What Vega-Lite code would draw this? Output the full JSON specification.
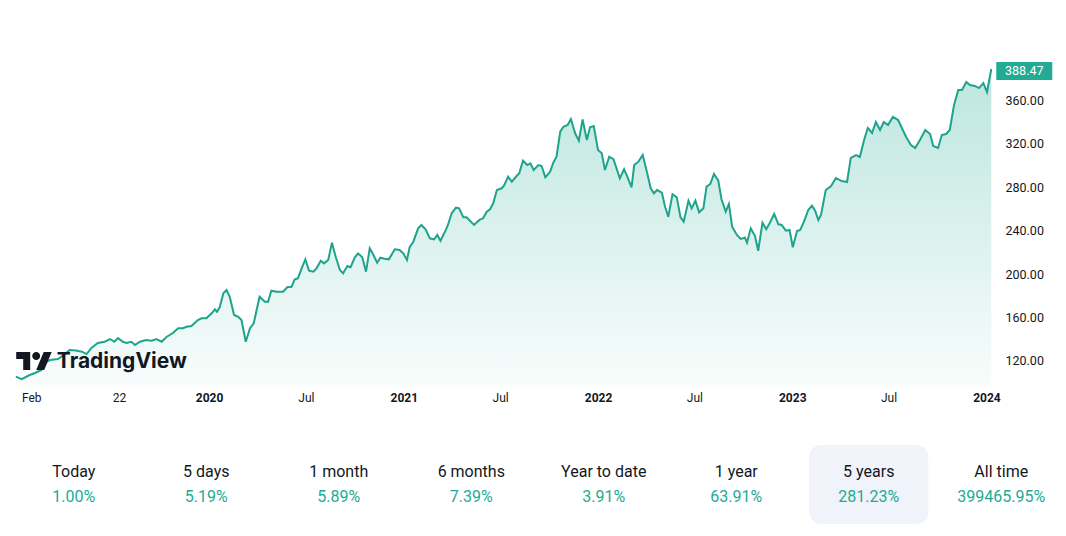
{
 "$schema": "https://vega.github.io/schema/vega-lite/v6.json",
 "background": "white",
 "padding": {"left": 10, "top": 50, "right": 0, "bottom": 0},
 "config": {"view": {"stroke": null}, "font": "Roboto", "concat": {"spacing": 42}},
 "datasets": {
  "prices": [
   {"date":"2019-01-03","price":105.6},{"date":"2019-01-14","price":103.4},{"date":"2019-01-29","price":107.1},{"date":"2019-02-08","price":109.0},
   {"date":"2019-02-20","price":111.7},{"date":"2019-02-26","price":118.2},{"date":"2019-03-08","price":120.9},{"date":"2019-03-23","price":121.8},
   {"date":"2019-04-03","price":125.5},{"date":"2019-04-14","price":130.1},{"date":"2019-04-26","price":129.7},{"date":"2019-05-07","price":128.6},
   {"date":"2019-05-16","price":126.4},{"date":"2019-05-25","price":132.0},{"date":"2019-06-06","price":136.6},{"date":"2019-06-19","price":137.7},
   {"date":"2019-06-29","price":140.2},{"date":"2019-07-07","price":137.7},{"date":"2019-07-14","price":141.1},{"date":"2019-07-23","price":137.7},
   {"date":"2019-07-30","price":136.6},{"date":"2019-08-08","price":137.7},{"date":"2019-08-15","price":134.7},{"date":"2019-08-24","price":137.7},
   {"date":"2019-09-05","price":139.3},{"date":"2019-09-15","price":138.7},{"date":"2019-09-24","price":140.2},{"date":"2019-10-04","price":137.7},
   {"date":"2019-10-13","price":142.1},{"date":"2019-10-25","price":145.7},{"date":"2019-11-04","price":150.1},{"date":"2019-11-13","price":150.1},
   {"date":"2019-11-20","price":151.5},{"date":"2019-11-29","price":152.2},{"date":"2019-12-11","price":157.7},{"date":"2019-12-18","price":159.3},
   {"date":"2019-12-27","price":159.3},{"date":"2020-01-06","price":163.9},{"date":"2020-01-12","price":167.5},{"date":"2020-01-16","price":165.3},
   {"date":"2020-01-21","price":169.4},{"date":"2020-01-28","price":182.3},{"date":"2020-02-03","price":185.3},{"date":"2020-02-09","price":179.1},
   {"date":"2020-02-17","price":162.3},{"date":"2020-02-25","price":160.7},{"date":"2020-03-02","price":157.7},{"date":"2020-03-10","price":137.7},
   {"date":"2020-03-18","price":150.1},{"date":"2020-03-25","price":154.7},{"date":"2020-04-05","price":179.1},{"date":"2020-04-15","price":174.5},
   {"date":"2020-04-21","price":174.5},{"date":"2020-04-27","price":184.6},{"date":"2020-05-07","price":183.7},{"date":"2020-05-19","price":183.7},
   {"date":"2020-05-27","price":187.8},{"date":"2020-06-04","price":188.3},{"date":"2020-06-10","price":195.1},{"date":"2020-06-16","price":196.0},
   {"date":"2020-06-23","price":205.2},{"date":"2020-06-30","price":213.5},{"date":"2020-07-07","price":203.0},{"date":"2020-07-15","price":202.1},
   {"date":"2020-07-21","price":205.2},{"date":"2020-07-29","price":212.2},{"date":"2020-08-04","price":209.8},{"date":"2020-08-12","price":212.9},
   {"date":"2020-08-19","price":228.8},{"date":"2020-08-26","price":215.9},{"date":"2020-09-03","price":203.7},{"date":"2020-09-09","price":200.6},
   {"date":"2020-09-17","price":207.4},{"date":"2020-09-23","price":206.2},{"date":"2020-10-01","price":215.4},{"date":"2020-10-07","price":219.0},
   {"date":"2020-10-15","price":215.4},{"date":"2020-10-22","price":202.1},{"date":"2020-10-29","price":223.6},{"date":"2020-11-04","price":218.4},
   {"date":"2020-11-12","price":210.4},{"date":"2020-11-18","price":215.0},{"date":"2020-11-26","price":214.1},{"date":"2020-12-04","price":213.5},
   {"date":"2020-12-15","price":222.7},{"date":"2020-12-24","price":222.1},{"date":"2020-12-31","price":219.0},{"date":"2021-01-07","price":212.9},
   {"date":"2021-01-12","price":224.6},{"date":"2021-01-19","price":229.7},{"date":"2021-01-28","price":242.0},{"date":"2021-02-03","price":245.1},
   {"date":"2021-02-11","price":241.1},{"date":"2021-02-19","price":232.8},{"date":"2021-02-27","price":231.9},{"date":"2021-03-05","price":235.9},
   {"date":"2021-03-11","price":230.6},{"date":"2021-03-21","price":240.5},{"date":"2021-03-25","price":245.1},{"date":"2021-04-01","price":255.8},
   {"date":"2021-04-09","price":261.0},{"date":"2021-04-15","price":260.4},{"date":"2021-04-23","price":252.1},{"date":"2021-04-29","price":252.1},
   {"date":"2021-05-13","price":245.1},{"date":"2021-05-23","price":249.7},{"date":"2021-05-30","price":251.2},{"date":"2021-06-06","price":257.3},
   {"date":"2021-06-12","price":259.5},{"date":"2021-06-18","price":265.0},{"date":"2021-06-25","price":277.2},{"date":"2021-07-04","price":278.8},
   {"date":"2021-07-08","price":280.9},{"date":"2021-07-16","price":289.5},{"date":"2021-07-23","price":284.9},{"date":"2021-08-01","price":290.1},
   {"date":"2021-08-06","price":292.6},{"date":"2021-08-13","price":304.2},{"date":"2021-08-21","price":300.2},{"date":"2021-08-27","price":301.8},
   {"date":"2021-09-02","price":295.6},{"date":"2021-09-11","price":300.2},{"date":"2021-09-17","price":299.3},{"date":"2021-09-24","price":288.9},
   {"date":"2021-10-03","price":294.1},{"date":"2021-10-09","price":302.3},{"date":"2021-10-15","price":307.9},{"date":"2021-10-22","price":330.9},
   {"date":"2021-10-28","price":335.4},{"date":"2021-11-05","price":337.0},{"date":"2021-11-11","price":342.5},{"date":"2021-11-19","price":329.4},
   {"date":"2021-11-26","price":322.6},{"date":"2021-12-03","price":342.2},{"date":"2021-12-11","price":323.2},{"date":"2021-12-17","price":334.9},
   {"date":"2021-12-24","price":336.1},{"date":"2022-01-01","price":314.0},{"date":"2022-01-08","price":311.0},{"date":"2022-01-14","price":295.6},
   {"date":"2022-01-22","price":307.9},{"date":"2022-01-30","price":305.5},{"date":"2022-02-11","price":288.0},{"date":"2022-02-19","price":296.3},
   {"date":"2022-02-25","price":289.5},{"date":"2022-03-05","price":279.7},{"date":"2022-03-10","price":300.2},{"date":"2022-03-18","price":303.3},
   {"date":"2022-03-26","price":309.4},{"date":"2022-04-02","price":295.6},{"date":"2022-04-10","price":278.8},{"date":"2022-04-16","price":274.2},
   {"date":"2022-04-22","price":277.2},{"date":"2022-05-01","price":274.8},{"date":"2022-05-07","price":261.9},{"date":"2022-05-13","price":252.7},
   {"date":"2022-05-21","price":273.3},{"date":"2022-05-29","price":270.5},{"date":"2022-06-05","price":252.1},{"date":"2022-06-11","price":248.1},
   {"date":"2022-06-20","price":267.4},{"date":"2022-06-26","price":260.4},{"date":"2022-07-03","price":267.4},{"date":"2022-07-10","price":256.7},
   {"date":"2022-07-18","price":260.4},{"date":"2022-07-24","price":280.3},{"date":"2022-07-31","price":282.8},{"date":"2022-08-07","price":292.0},
   {"date":"2022-08-15","price":285.8},{"date":"2022-08-21","price":268.7},{"date":"2022-08-29","price":257.3},{"date":"2022-09-04","price":264.4},
   {"date":"2022-09-10","price":243.5},{"date":"2022-09-19","price":235.9},{"date":"2022-09-26","price":232.2},{"date":"2022-10-04","price":233.4},
   {"date":"2022-10-08","price":228.8},{"date":"2022-10-15","price":242.0},{"date":"2022-10-23","price":234.9},{"date":"2022-10-29","price":221.4},
   {"date":"2022-11-06","price":247.2},{"date":"2022-11-13","price":241.1},{"date":"2022-11-20","price":247.2},{"date":"2022-11-28","price":255.2},
   {"date":"2022-12-06","price":245.7},{"date":"2022-12-12","price":245.1},{"date":"2022-12-20","price":239.8},{"date":"2022-12-27","price":240.5},
   {"date":"2023-01-02","price":224.6},{"date":"2023-01-10","price":239.5},{"date":"2023-01-16","price":240.5},{"date":"2023-01-23","price":248.1},
   {"date":"2023-01-31","price":258.8},{"date":"2023-02-07","price":262.8},{"date":"2023-02-13","price":258.2},{"date":"2023-02-19","price":249.7},
   {"date":"2023-02-24","price":254.3},{"date":"2023-03-05","price":277.2},{"date":"2023-03-15","price":280.9},{"date":"2023-03-24","price":288.3},
   {"date":"2023-04-04","price":285.5},{"date":"2023-04-14","price":284.6},{"date":"2023-04-21","price":306.7},{"date":"2023-05-01","price":309.4},
   {"date":"2023-05-08","price":307.6},{"date":"2023-05-16","price":323.2},{"date":"2023-05-23","price":334.3},{"date":"2023-05-31","price":329.7},
   {"date":"2023-06-07","price":339.8},{"date":"2023-06-15","price":332.4},{"date":"2023-06-22","price":339.8},{"date":"2023-06-30","price":337.0},
   {"date":"2023-07-09","price":344.4},{"date":"2023-07-19","price":341.6},{"date":"2023-07-26","price":334.3},{"date":"2023-08-03","price":326.0},
   {"date":"2023-08-12","price":318.6},{"date":"2023-08-20","price":315.9},{"date":"2023-08-29","price":323.2},{"date":"2023-09-08","price":332.4},
   {"date":"2023-09-17","price":328.7},{"date":"2023-09-23","price":317.7},{"date":"2023-10-02","price":315.9},{"date":"2023-10-09","price":327.8},
   {"date":"2023-10-17","price":328.7},{"date":"2023-10-24","price":332.4},{"date":"2023-11-01","price":355.4},{"date":"2023-11-09","price":369.2},
   {"date":"2023-11-16","price":369.2},{"date":"2023-11-24","price":376.6},{"date":"2023-12-01","price":373.8},{"date":"2023-12-10","price":372.9},
   {"date":"2023-12-18","price":371.0},{"date":"2023-12-26","price":375.6},{"date":"2024-01-02","price":367.4},{"date":"2024-01-10","price":388.47}
  ],
  "logo": [{"date":"2019-02-06","price":120,"label":"TradingView","textDate":"2019-03-21"}],
  "stats": [
   {"period":"Today","change":"1.00%"},{"period":"5 days","change":"5.19%"},{"period":"1 month","change":"5.89%"},{"period":"6 months","change":"7.39%"},
   {"period":"Year to date","change":"3.91%"},{"period":"1 year","change":"63.91%"},{"period":"5 years","change":"281.23%"},{"period":"All time","change":"399465.95%"}
  ]
 },
 "vconcat": [
  {
   "width": 985,
   "height": 335,
   "data": {"name": "prices"},
   "encoding": {
    "x": {"field": "date", "type": "temporal",
     "scale": {"type": "utc", "domain": [{"year":2018,"month":12,"date":23,"utc":true},{"year":2024,"month":1,"date":17,"utc":true}]},
     "axis": {
      "values": [{"year":2019,"month":2,"date":1,"utc":true},{"year":2019,"month":7,"date":16,"utc":true},{"year":2020,"month":1,"date":1,"utc":true},{"year":2020,"month":7,"date":1,"utc":true},{"year":2021,"month":1,"date":1,"utc":true},{"year":2021,"month":7,"date":1,"utc":true},{"year":2022,"month":1,"date":1,"utc":true},{"year":2022,"month":7,"date":1,"utc":true},{"year":2023,"month":1,"date":1,"utc":true},{"year":2023,"month":7,"date":1,"utc":true},{"year":2024,"month":1,"date":1,"utc":true}],
      "labelExpr": "utcmonth(datum.value)==0 ? utcFormat(datum.value,'%Y') : (utcmonth(datum.value)==1 ? 'Feb' : (utcyear(datum.value)==2019 ? '22' : 'Jul'))",
      "labelFontWeight": {"condition": {"test": "utcmonth(datum.value)==0", "value": "bold"}, "value": "normal"},
      "title": null, "domain": false, "ticks": false, "tickSize": 0, "grid": false,
      "labelPadding": 7, "labelFontSize": 12, "labelColor": "#131722", "labelFlush": false, "labelOverlap": false
     }
    },
    "y": {"field": "price", "type": "quantitative",
     "scale": {"domain": [97.93, 405.98], "nice": false, "zero": false},
     "axis": {"orient": "right", "values": [120,160,200,240,280,320,360], "format": ".2f", "title": null, "domain": false, "ticks": false, "tickSize": 0, "grid": false, "labelPadding": 10, "labelFontSize": 12.5, "labelColor": "#131722"}
    }
   },
   "layer": [
    {"mark": {"type": "area", "color": {"x1": 0, "y1": 0, "x2": 0, "y2": 1, "gradient": "linear", "stops": [{"offset": 0, "color": "rgba(34,171,148,0.30)"}, {"offset": 1, "color": "rgba(34,171,148,0.03)"}]}},
     "encoding": {"y2": {"datum": 97.93}}},
    {"mark": {"type": "line", "color": "#1fa38c", "strokeWidth": 2}},
    {"data": {"name": "logo"},
     "mark": {"type": "point", "shape": "M-3.75,9H-10.75V-2H-17.75V-9H-3.75ZM10.25,9H2.25L9.75,-9H17.75ZM-1.75,-5a4,4 0 1,0 8,0a4,4 0 1,0 -8,0Z", "size": 4, "filled": true, "color": "#131722", "opacity": 1, "strokeWidth": 0}},
    {"data": {"name": "logo"},
     "mark": {"type": "text", "align": "left", "baseline": "middle", "font": "Inter", "fontWeight": "bold", "fontSize": 21, "color": "#131722", "yOffset": 1},
     "encoding": {"x": {"field": "textDate", "type": "temporal"}, "text": {"field": "label"}}},
    {"transform": [{"filter": "datum.price === 388.47"}],
     "mark": {"type": "point", "shape": "M-1,-0.32H1V0.32H-1Z", "size": 3136, "filled": true, "color": "#22ab94", "opacity": 1, "strokeWidth": 0, "xOffset": 33, "yOffset": 2}},
    {"transform": [{"filter": "datum.price === 388.47"}],
     "mark": {"type": "text", "color": "white", "fontSize": 12.5, "align": "center", "baseline": "middle", "xOffset": 33, "yOffset": 2},
     "encoding": {"text": {"field": "price", "format": ".2f"}}}
   ]
  },
  {
   "width": 1055,
   "height": 79,
   "data": {"name": "stats"},
   "encoding": {
    "x": {"field": "period", "type": "nominal", "sort": null,
     "scale": {"type": "band", "domain": ["Today","5 days","1 month","6 months","Year to date","1 year","5 years","All time"], "paddingInner": 0.1015, "paddingOuter": 0.032},
     "axis": null}
   },
   "layer": [
    {"transform": [{"filter": "datum.period == '5 years'"}], "mark": {"type": "rect", "color": "#f0f3fa", "cornerRadius": 12}},
    {"mark": {"type": "text", "dy": -12.5, "fontSize": 16, "color": "#131722"}, "encoding": {"text": {"field": "period"}}},
    {"mark": {"type": "text", "dy": 12.5, "fontSize": 16, "color": "#22ab94"}, "encoding": {"text": {"field": "change"}}}
   ]
  }
 ]
}
